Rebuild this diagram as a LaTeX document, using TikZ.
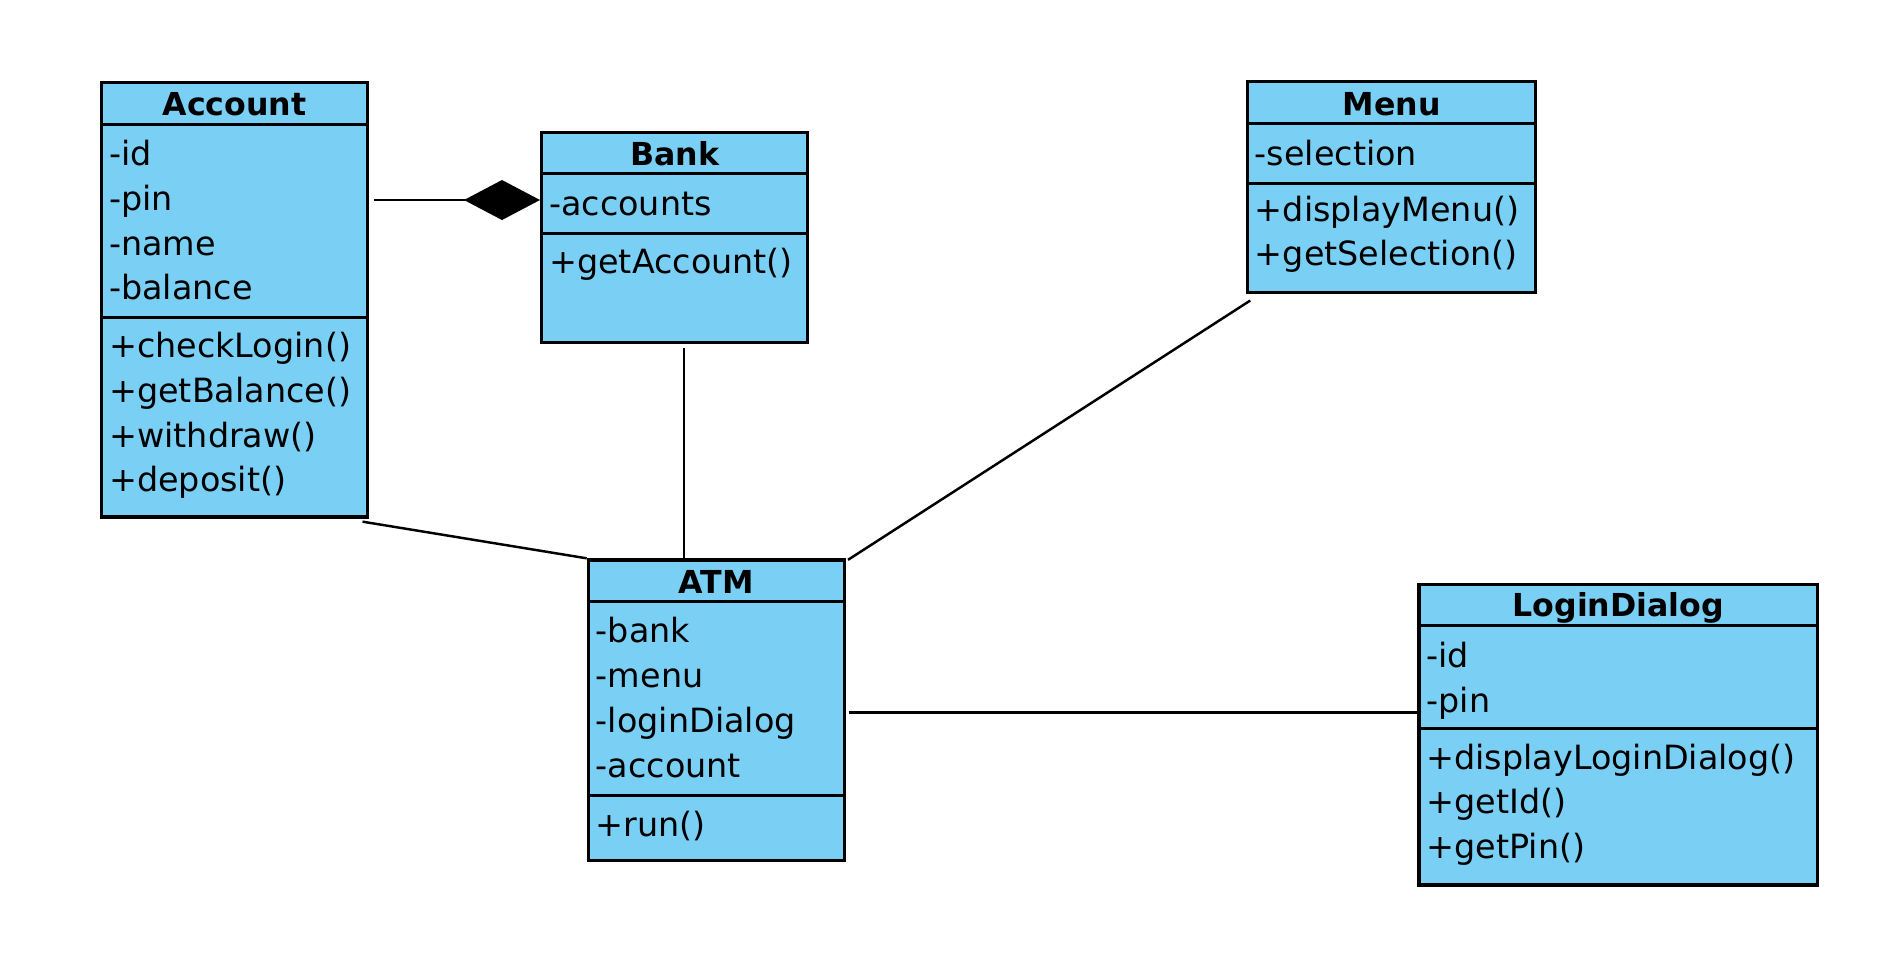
\documentclass[tikz,border=0pt]{standalone}
\usepackage{fontspec}
\setmainfont{DejaVu Sans}
\usetikzlibrary{arrows.meta, calc}
\definecolor{classblue}{RGB}{122,207,245}

\tikzset{
  classbox/.style={draw=black, line width=0.95pt, fill=classblue, anchor=north west, inner sep=0pt},
  divider/.style={line width=0.85pt},
  classname/.style={anchor=base, inner sep=0pt, font=\fontsize{9pt}{12pt}\bfseries\selectfont},
  member/.style={anchor=base west, inner sep=0pt},
  assoc/.style={line width=0.7pt}
}

\begin{document}
\begin{tikzpicture}[x=1cm, y=-1cm, font=\fontsize{9.5pt}{12.75pt}\selectfont]
\path[use as bounding box] (0,0) rectangle (19,9.6);

% Account
\node[classbox, minimum width=2.657cm, minimum height=4.343cm] (account) at (1.00,0.81) {};
\draw[divider] ($(account.north west)+(0,0.43)$) -- ($(account.north east)+(0,0.43)$);
\draw[divider] ($(account.north west)+(0,2.36)$) -- ($(account.north east)+(0,2.36)$);
\node[classname] (account-name) at ($(account.north)+(0,0.345)$) {Account};
\foreach \m [count=\i from 0] in {-id, -pin, -name, -balance}
  \node[member] (account-a\i) at ($(account.north west)+(0.085,0.845+0.448*\i)$) {\m};
\foreach \m [count=\i from 0] in {+checkLogin(), +getBalance(), +withdraw(), +deposit()}
  \node[member] (account-m\i) at ($(account.north west)+(0.085,2.765+0.448*\i)$) {\m};

% Bank
\node[classbox, minimum width=2.657cm, minimum height=2.103cm] (bank) at (5.40,1.307) {};
\draw[divider] ($(bank.north west)+(0,0.43)$) -- ($(bank.north east)+(0,0.43)$);
\draw[divider] ($(bank.north west)+(0,1.026)$) -- ($(bank.north east)+(0,1.026)$);
\node[classname] (bank-name) at ($(bank.north)+(0,0.345)$) {Bank};
\node[member] (bank-a0) at ($(bank.north west)+(0.085,0.845)$) {-accounts};
\node[member] (bank-m0) at ($(bank.north west)+(0.085,1.43)$) {+getAccount()};

% Menu
\node[classbox, minimum width=2.883cm, minimum height=2.107cm] (menu) at (12.457,0.80) {};
\draw[divider] ($(menu.north west)+(0,0.43)$) -- ($(menu.north east)+(0,0.43)$);
\draw[divider] ($(menu.north west)+(0,1.033)$) -- ($(menu.north east)+(0,1.033)$);
\node[classname] (menu-name) at ($(menu.north)+(0,0.355)$) {Menu};
\node[member] (menu-a0) at ($(menu.north west)+(0.085,0.85)$) {-selection};
\foreach \m [count=\i from 0] in {+displayMenu(), +getSelection()}
  \node[member] (menu-m\i) at ($(menu.north west)+(0.085,1.41+0.448*\i)$) {\m};

% ATM
\node[classbox, minimum width=2.56cm, minimum height=3.007cm] (atm) at (5.867,5.583) {};
\draw[divider] ($(atm.north west)+(0,0.434)$) -- ($(atm.north east)+(0,0.434)$);
\draw[divider] ($(atm.north west)+(0,2.374)$) -- ($(atm.north east)+(0,2.374)$);
\node[classname] (atm-name) at ($(atm.north)+(0,0.355)$) {ATM};
\foreach \m [count=\i from 0] in {-bank, -menu, -loginDialog, -account}
  \node[member] (atm-a\i) at ($(atm.north west)+(0.085,0.845+0.448*\i)$) {\m};
\node[member] (atm-m0) at ($(atm.north west)+(0.085,2.777)$) {+run()};

% LoginDialog
\node[classbox, minimum width=3.987cm, minimum height=3.006cm] (login) at (14.173,5.827) {};
\draw[divider] ($(login.north west)+(0,0.43)$) -- ($(login.north east)+(0,0.43)$);
\draw[divider] ($(login.north west)+(0,1.453)$) -- ($(login.north east)+(0,1.453)$);
\node[classname] (login-name) at ($(login.north)+(0,0.34)$) {LoginDialog};
\foreach \m [count=\i from 0] in {-id, -pin}
  \node[member] (login-a\i) at ($(login.north west)+(0.085,0.846+0.448*\i)$) {\m};
\foreach \m [count=\i from 0] in {+displayLoginDialog(), +getId(), +getPin()}
  \node[member] (login-m\i) at ($(login.north west)+(0.085,1.863+0.448*\i)$) {\m};

% Associations
\coordinate (bank-comp) at ($(bank.north west)+(0,0.693)$);
\draw[assoc, shorten <=0.05cm, -{Diamond[length=0.76cm, width=0.40cm]}] (account.east |- bank-comp) -- (bank-comp);
\draw[assoc, shorten <=0.04cm] ([xshift=0.094cm]bank.south) -- ([xshift=0.094cm]bank.south |- atm.north);
\draw[assoc] ([xshift=-0.065cm, yshift=-0.03cm]account.south east) -- (atm.north west);
\draw[assoc] ([xshift=0.045cm, yshift=-0.065cm]menu.south west) -- ([xshift=0.02cm, yshift=-0.015cm]atm.north east);
\draw[assoc, shorten <=0.025cm] ([yshift=-0.02cm]atm.east) -- ([yshift=-0.02cm]atm.east -| login.west);
\end{tikzpicture}
\end{document}
